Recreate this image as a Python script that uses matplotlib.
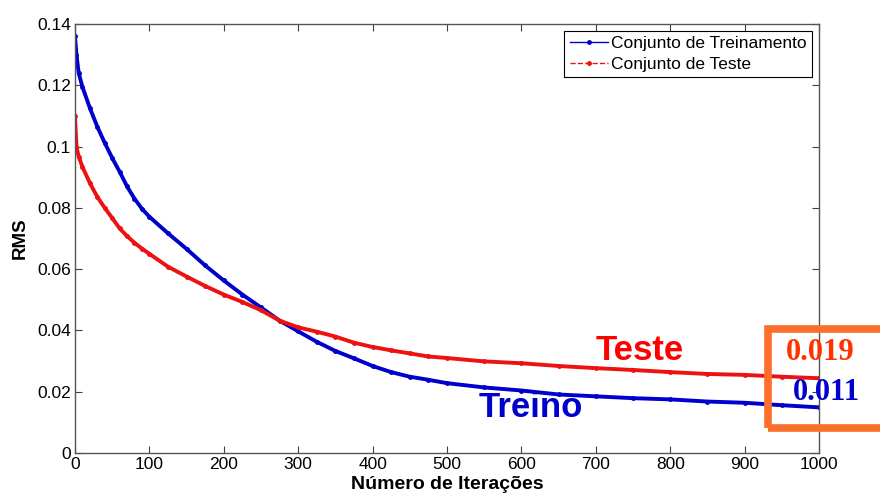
import matplotlib
matplotlib.use("Agg")
import matplotlib.pyplot as plt
from matplotlib.lines import Line2D
from matplotlib.patches import Rectangle

plt.rcParams['font.family'] = ['Liberation Sans', 'DejaVu Sans']

iters = [0, 2, 5, 10, 20, 30, 40, 50, 60, 70, 80, 90, 100, 125, 150, 175, 200,
         225, 250, 275, 300, 325, 350, 375, 400, 425, 450, 475, 500, 550, 600,
         650, 700, 750, 800, 850, 900, 950, 1000]

rms_treino = [0.136, 0.130, 0.124, 0.1195, 0.1126, 0.1065, 0.1012, 0.0963, 0.0918,
              0.0870, 0.0830, 0.0797, 0.0771, 0.0717, 0.0666, 0.0612, 0.0563,
              0.0517, 0.0475, 0.0432, 0.0397, 0.0363, 0.0333, 0.0309, 0.0284,
              0.0264, 0.0249, 0.0239, 0.0228, 0.0214, 0.0204, 0.0191, 0.0185,
              0.0179, 0.0175, 0.0168, 0.0164, 0.0156, 0.0149]

rms_teste = [0.110, 0.100, 0.0967, 0.0934, 0.0881, 0.0836, 0.0800, 0.0767, 0.0733,
             0.0708, 0.0686, 0.0667, 0.0650, 0.0608, 0.0576, 0.0545, 0.0517,
             0.0493, 0.0466, 0.0432, 0.0410, 0.0396, 0.0380, 0.0360, 0.0346,
             0.0335, 0.0325, 0.0315, 0.0310, 0.0299, 0.0293, 0.0284, 0.0277,
             0.0271, 0.0264, 0.0258, 0.0255, 0.0249, 0.0244]

xticks = [0, 100, 200, 300, 400, 500, 600, 700, 800, 900, 1000]
yticks = [0, 0.02, 0.04, 0.06, 0.08, 0.1, 0.12, 0.14]
ytick_labels = ['0', '0.02', '0.04', '0.06', '0.08', '0.1', '0.12', '0.14']

blue = '#0000cc'
red = '#ee1111'

fig = plt.figure(figsize=(8.8, 4.95), dpi=100)
ax = fig.add_axes([0.0852, 0.0848, 0.9307 - 0.0852, 0.9515 - 0.0848])

ax.plot(iters, rms_treino, color=blue, lw=2.8, marker='.', ms=5)
ax.plot(iters, rms_teste, color=red, lw=2.8, marker='.', ms=5)

ax.set_xlim(0, 1000)
ax.set_ylim(0, 0.14)
ax.set_xticks(xticks)
ax.set_xticklabels([str(t) for t in xticks])
ax.set_yticks(yticks)
ax.set_yticklabels(ytick_labels)
ax.tick_params(direction='in', top=True, right=True, length=5, labelsize=12.5,
               color='#404040', pad=3)
for s in ax.spines.values():
    s.set_color('#555555')
    s.set_linewidth(1.0)

ax.set_xlabel('Número de Iterações', fontsize=14, fontweight='bold', labelpad=3)
ax.set_ylabel('RMS', fontsize=13.5, fontweight='bold', labelpad=6)

handles = [Line2D([], [], color=blue, lw=1, marker='.', ms=5, ls='-'),
           Line2D([], [], color=red, lw=1, marker='.', ms=5, ls='--')]
leg = ax.legend(handles, ['Conjunto de Treinamento', 'Conjunto de Teste'],
                loc='upper right', fontsize=12.5, fancybox=False, framealpha=1,
                edgecolor='black', borderpad=0.3, handlelength=2.2,
                handletextpad=0.2, labelspacing=0.3, borderaxespad=0.4)
leg.get_frame().set_linewidth(0.8)

ax.text(759, 0.0336, 'Teste', color='#ff0000', fontsize=25, fontweight='bold',
        ha='center', va='center')
ax.text(612, 0.0150, 'Treino', color=blue, fontsize=25, fontweight='bold',
        ha='center', va='center')

# orange box highlighting the final values
fig.patches.append(Rectangle((768 / 880, 1 - 428 / 495), 0.2, (428 - 328.5) / 495,
                             transform=fig.transFigure, fill=False,
                             edgecolor='#fb6f2b', lw=5.5, zorder=5))
fig.text(820 / 880, 1 - 353 / 495, '0.019', color='#ff3300', fontsize=22,
         fontweight='bold', family='Liberation Serif', ha='center', va='center')
fig.text(826 / 880, 1 - 392 / 495, '0.011', color='#0000cc', fontsize=22,
         fontweight='bold', family='Liberation Serif', ha='center', va='center')

fig.savefig('out.png', dpi=100)
